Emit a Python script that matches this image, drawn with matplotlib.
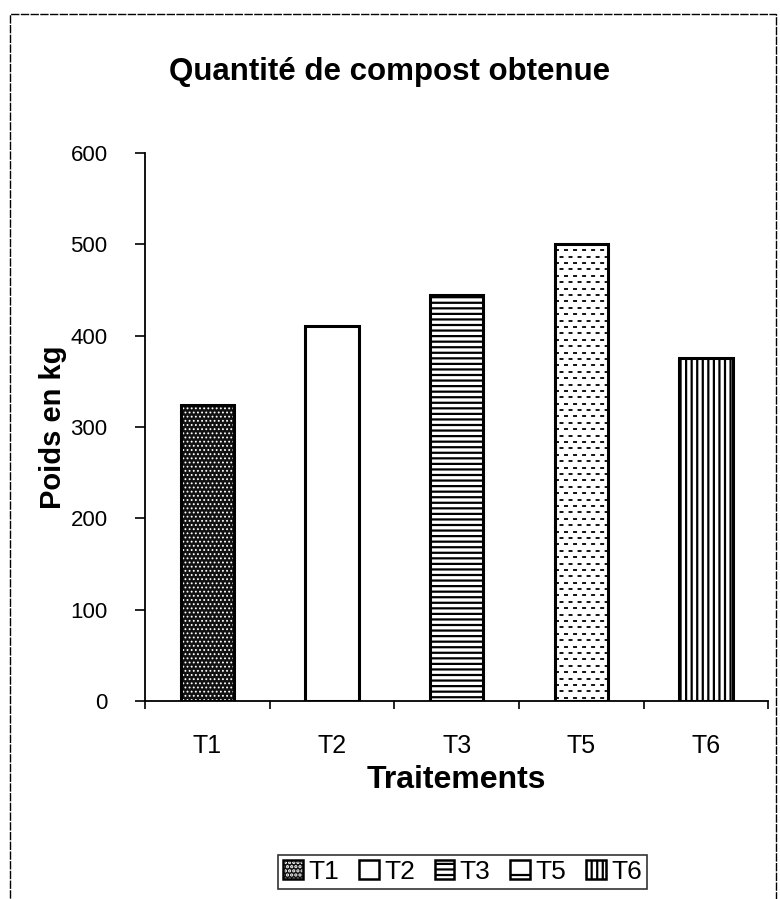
import matplotlib
matplotlib.use('Agg')
import matplotlib.pyplot as plt
from matplotlib.patches import Patch, Rectangle

plt.rcParams['font.family'] = ['Liberation Sans', 'DejaVu Sans']
plt.rcParams['hatch.linewidth'] = 1.6

traitements = ['T1', 'T2', 'T3', 'T5', 'T6']
poids = [324, 411, 444, 500, 375]
y_ticks = [0, 100, 200, 300, 400, 500, 600]

# motif de chaque barre : (fond, hachure, couleur de hachure, épaisseur de hachure)
motifs = [('#111111', '....', 'white', 0.8),
          ('white', '', 'black', 1.6),
          ('white', '---', 'black', 1.6),
          ('white', '', 'black', 1.6),
          ('white', '|||', 'black', 1.6)]

fig = plt.figure(figsize=(7.8, 8.99), dpi=100)
ax = fig.add_axes([0.186, 0.2203, 0.799, 0.6095])

x = list(range(len(traitements)))
largeur = 0.43
for i, (val, (fc, hatch, hc, hlw)) in enumerate(zip(poids, motifs)):
    with plt.rc_context({'hatch.linewidth': hlw}):
        ax.bar(x[i], val, width=largeur, color=fc, hatch=hatch, edgecolor=hc, linewidth=0, zorder=2)
    cadre = ax.bar(x[i], val, width=largeur, fill=False, edgecolor='black', linewidth=2.2, zorder=3)
    if traitements[i] == 'T5':
        # petits tirets décalés d'une ligne à l'autre
        clip = cadre.patches[0]
        niveaux = [k * 7.0 + 3.5 for k in range(int(val / 7.0) + 1)]
        for k, niv in enumerate(niveaux):
            decal = 0 if k % 2 == 0 else 2.5
            ln, = ax.plot([x[i] - largeur / 2, x[i] + largeur / 2], [niv, niv], color='black',
                          lw=1.3, linestyle=(decal, (2.2, 2.8)), zorder=2.5)
            ln.set_clip_path(clip)

ax.set_xlim(-0.5, len(traitements) - 0.5)
ax.set_ylim(0, 600)
ax.set_yticks(y_ticks)
ax.set_yticklabels([str(v) for v in y_ticks], fontsize=16)
ax.set_xticks(x)
ax.set_xticklabels(traitements, fontsize=18)
ax.set_xticks([i + 0.5 for i in range(-1, len(traitements))], minor=True)

ax.tick_params(axis='x', which='major', length=0, pad=24)
ax.tick_params(axis='x', which='minor', length=6, width=1.2, direction='out')
ax.tick_params(axis='y', length=7, width=1.2, direction='out', pad=20)

for s in ['top', 'right']:
    ax.spines[s].set_visible(False)
for s in ['left', 'bottom']:
    ax.spines[s].set_linewidth(1.3)

fig.text(0.5, 1 - 72 / 899, 'Quantité de compost obtenue', ha='center', va='center',
         fontsize=22.5, fontweight='bold')
fig.text(53 / 780, 1 - 427 / 899, 'Poids en kg', ha='center', va='center', rotation=90,
         fontsize=21, fontweight='bold')
fig.text(0.585, 1 - 780 / 899, 'Traitements', ha='center', va='center',
         fontsize=23, fontweight='bold')

with plt.rc_context({'hatch.linewidth': 0.8}):
    h_t1 = Patch(facecolor='#111111', edgecolor='white', hatch='....', linewidth=0)
bord = Patch(fill=False, edgecolor='black', linewidth=1.8)
handles = [(h_t1, bord),
           Patch(facecolor='white', edgecolor='black', linewidth=1.8),
           Patch(facecolor='white', edgecolor='black', hatch='---', linewidth=1.8),
           Patch(facecolor='white', edgecolor='black', hatch='-', linewidth=1.8),
           Patch(facecolor='white', edgecolor='black', hatch='|||', linewidth=1.8)]
leg = fig.legend(handles, traitements, loc='center', bbox_to_anchor=(0.593, 1 - 872 / 899),
                 ncol=5, fontsize=19, frameon=True, fancybox=False, handlelength=0.75,
                 handleheight=0.75, handletextpad=0.2, columnspacing=0.75, borderpad=0.2,
                 borderaxespad=0)
leg.get_frame().set_edgecolor('black')
leg.get_frame().set_linewidth(1.2)

# cadre extérieur du graphique
fig.patches.append(Rectangle((10 / 780, -0.01), 766 / 780, 1 - 14 / 899 + 0.01,
                             transform=fig.transFigure, fill=False, edgecolor='black',
                             linewidth=1.0, linestyle=(0, (6, 1))))

fig.savefig('out.png', dpi=100)
